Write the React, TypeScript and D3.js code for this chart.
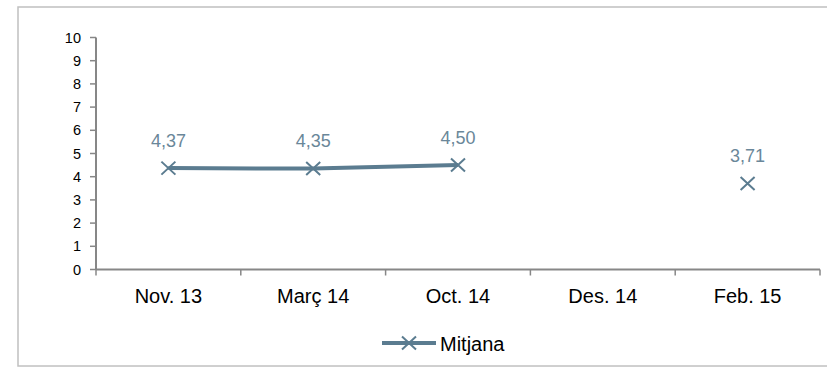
import React from "react";
import * as d3 from "d3";

const categories = ["Nov. 13", "Març 14", "Oct. 14", "Des. 14", "Feb. 15"];
const mitjana: (number | null)[] = [4.37, 4.35, 4.5, null, 3.71];
const yTicks = [0, 1, 2, 3, 4, 5, 6, 7, 8, 9, 10];
const seriesName = "Mitjana";

const W = 827;
const H = 367;
const FONT = "'Liberation Sans', Arial, sans-serif";
const LINE = "#5B7C90";
const LABEL = "#6A8799";
const AXIS = "#878787";

const fmt = (v: number) => v.toFixed(2).replace(".", ",");

export default function App() {
  const x = d3.scaleBand<string>().domain(categories).range([96, 820]);
  const y = d3.scaleLinear().domain([0, 10]).range([269.5, 37.5]);
  const cx = (c: string) => (x(c) ?? 0) + x.bandwidth() / 2;

  const pts = categories.map((c, i) => ({ c, v: mitjana[i] }));
  const line = d3
    .line<{ c: string; v: number | null }>()
    .defined((d) => d.v != null)
    .x((d) => cx(d.c))
    .y((d) => y(d.v as number));

  const bounds = [...categories.map((c) => x(c) ?? 0), 820];

  const xMark = (px: number, py: number, key: string) => (
    <path
      key={key}
      d={`M${px - 7},${py - 6.5}L${px + 7},${py + 6.5}M${px - 7},${py + 6.5}L${px + 7},${py - 6.5}`}
      stroke={LINE}
      strokeWidth={2}
      fill="none"
    />
  );

  return (
    <svg
      width={W}
      height={H}
      style={{ position: "absolute", left: 0, top: 0, background: "#fff" }}
      fontFamily={FONT}
    >
      <rect x={18} y={7} width={830} height={359} fill="none" stroke="#C0C0C0" strokeWidth={1.5} />

      {/* Y axis */}
      <line x1={96} x2={96} y1={y(10)} y2={y(0)} stroke={AXIS} strokeWidth={2} />
      {yTicks.map((t) => (
        <g key={t}>
          <line x1={90} x2={96} y1={y(t)} y2={y(t)} stroke={AXIS} strokeWidth={1.5} />
          <text x={81} y={y(t) + 5} textAnchor="end" fontSize={14.5} fill="#000">
            {t}
          </text>
        </g>
      ))}

      {/* X axis */}
      <line x1={96} x2={820} y1={y(0)} y2={y(0)} stroke={AXIS} strokeWidth={2} />
      {bounds.map((b, i) => (
        <line key={i} x1={b} x2={b} y1={y(0)} y2={y(0) + 6} stroke={AXIS} strokeWidth={1.5} />
      ))}
      {categories.map((c) => (
        <text key={c} x={cx(c)} y={302.5} textAnchor="middle" fontSize={20} fill="#000">
          {c}
        </text>
      ))}

      {/* Series */}
      <path d={line(pts) ?? ""} fill="none" stroke={LINE} strokeWidth={4} strokeLinejoin="round" />
      {pts.map((p) =>
        p.v == null ? null : (
          <g key={p.c}>
            {xMark(cx(p.c), y(p.v), p.c)}
            <text x={cx(p.c)} y={y(p.v) - 21.5} textAnchor="middle" fontSize={18} fill={LABEL}>
              {fmt(p.v)}
            </text>
          </g>
        )
      )}

      {/* Legend */}
      <line x1={382} x2={436} y1={343} y2={343} stroke={LINE} strokeWidth={4} />
      {xMark(409, 343, "legend")}
      <text x={440} y={350.5} fontSize={20} fill="#000">
        {seriesName}
      </text>
    </svg>
  );
}
